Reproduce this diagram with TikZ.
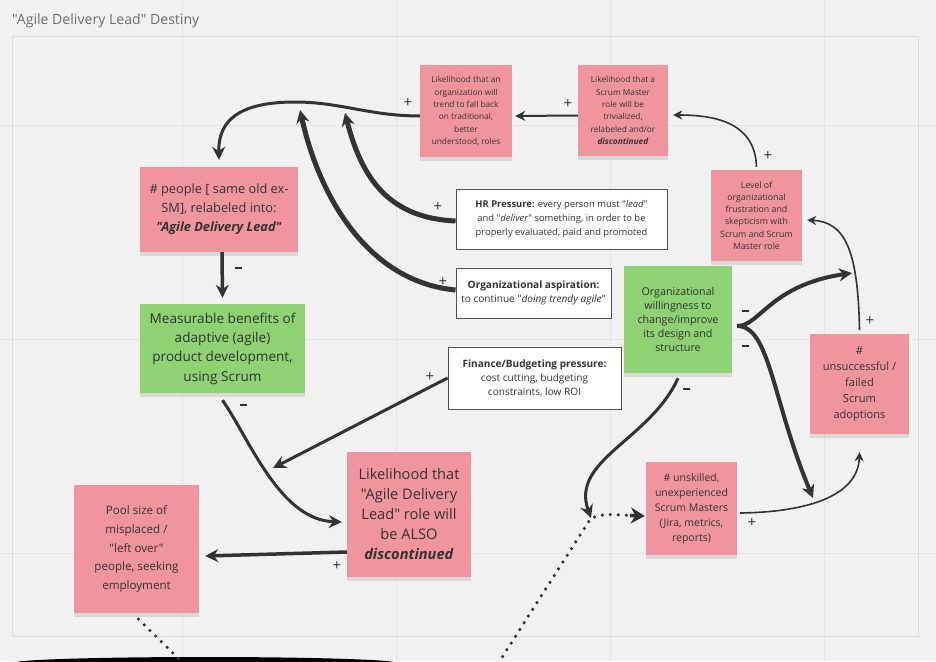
\documentclass[tikz,border=0pt]{standalone}
\usepackage{fontspec}
\setmainfont{Open Sans}[Ligatures=TeXOff]
\usetikzlibrary{arrows.meta,shadows,shapes.geometric}
\pgfdeclarelayer{bg}
\pgfsetlayers{bg,main}
\definecolor{board}{HTML}{F1F1F1}
\definecolor{frameline}{HTML}{DCDCDC}
\definecolor{gridline}{HTML}{E4E4E4}
\definecolor{notepink}{HTML}{F0959E}
\definecolor{notegreen}{HTML}{8ED273}
\definecolor{ink}{HTML}{333333}
\definecolor{titlegrey}{HTML}{6E6E6E}
\newcommand{\minussign}{\rule{7pt}{2.6pt}}
\tikzset{
    note/.style={rectangle, inner sep=0pt, align=center, text=ink,
      drop shadow={shadow xshift=0pt, shadow yshift=-4pt, opacity=.22}},
    pinknote/.style={note, fill=notepink},
    greennote/.style={note, fill=notegreen},
    infobox/.style={rectangle, inner sep=0pt, align=center, text=ink,
      draw=ink!85, fill=white, line width=.9pt},
    sign/.style={inner sep=0pt, text=ink, font=\fontsize{15}{15}\selectfont},
    link/.style={draw=ink, line width=3.5pt, -{Stealth[length=13pt,width=13pt]}},
    thinlink/.style={draw=ink, line width=1.6pt, -{Stealth[length=9pt,width=9pt]}},
    dotlink/.style={draw=ink, line width=3.5pt, line cap=round, dash pattern=on 0pt off 8pt}
}

\begin{document}
\begin{tikzpicture}[x=1pt, y=-1pt]
  \useasboundingbox (0,0) rectangle (936,661);

  \begin{pgfonlayer}{bg}
    \fill[board] (0,0) rectangle (936,661);
    \foreach \gx in {182,396,610,824} \draw[gridline, line width=.7pt] (\gx,0) -- (\gx,661);
    \foreach \gy in {125,339,553} \draw[gridline, line width=.7pt] (0,\gy) -- (936,\gy);
    \draw[frameline, line width=.8pt] (12,36) rectangle (918,636);
  \end{pgfonlayer}

  \node[anchor=west, inner sep=0pt, text=titlegrey, font=\fontsize{14.1}{14}\selectfont]
    (title) at (12,21) {"Agile Delivery Lead" Destiny};

  % sticky notes
  \node[pinknote, minimum width=92pt, minimum height=92pt, font=\fontsize{8.3}{12.3}\selectfont]
    (orgtrend) at (466,111) {Likelihood that an\\organization will\\trend to fall back\\on traditional,\\better\\understood, roles};
  \node[pinknote, minimum width=90pt, minimum height=91pt, font=\fontsize{8.3}{12.3}\selectfont]
    (smrole) at (623,110.5) {Likelihood that a\\Scrum Master\\role will be\\trivialized,\\relabeled and/or\\\textbf{\textit{discontinued}}};
  \node[pinknote, minimum width=158pt, minimum height=85pt, font=\fontsize{12.8}{19}\selectfont]
    (people) at (219,209.5) {\# people [ same old ex-\\SM], relabeled into:\\\textbf{\textit{"Agile Delivery Lead"}}};
  \node[greennote, minimum width=165pt, minimum height=89pt, font=\fontsize{13.6}{19.3}\selectfont]
    (benefits) at (222.5,348.5) {Measurable benefits of\\adaptive (agile)\\product development,\\using Scrum};
  \node[pinknote, minimum width=91pt, minimum height=91pt, font=\fontsize{8.8}{12.3}\selectfont]
    (frustr) at (756.5,215.5) {Level of\\organizational\\frustration and\\skepticism with\\Scrum and Scrum\\Master role};
  \node[greennote, minimum width=108pt, minimum height=107pt, font=\fontsize{10.7}{14.2}\selectfont]
    (willing) at (678,319.5) {Organizational\\willingness to\\change/improve\\its design and\\structure};
  \node[pinknote, minimum width=99pt, minimum height=100pt, font=\fontsize{11.1}{16}\selectfont]
    (failed) at (859.5,384) {\#\\unsuccessful /\\failed\\Scrum\\adoptions};
  \node[pinknote, minimum width=91pt, minimum height=93pt, font=\fontsize{10.5}{15}\selectfont]
    (unskilled) at (691.5,508.5) {\# unskilled,\\unexperienced\\Scrum Masters\\(Jira, metrics,\\reports)};
  \node[pinknote, minimum width=124pt, minimum height=125pt, font=\fontsize{14.6}{20}\selectfont]
    (adl) at (409,514.5) {Likelihood that\\"Agile Delivery\\Lead" role will\\be ALSO\\\textbf{\textit{discontinued}}};
  \node[pinknote, minimum width=125pt, minimum height=128pt, font=\fontsize{11.6}{18.6}\selectfont]
    (pool) at (136.5,549) {Pool size of\\misplaced /\\"left over"\\people, seeking\\employment};

  % pressure boxes
  \node[infobox, minimum width=211pt, minimum height=60pt, font=\fontsize{9.4}{14}\selectfont]
    (hr) at (561.5,219) {\textbf{HR Pressure:} every person must "\textit{lead}"\\and "\textit{deliver}" something, in order to be\\properly evaluated, paid and promoted};
  \node[infobox, minimum width=155pt, minimum height=50pt, font=\fontsize{10.1}{14}\selectfont]
    (aspir) at (533.5,293) {\textbf{Organizational aspiration:}\\to continue "\textit{doing trendy agile}"};
  \node[infobox, minimum width=173pt, minimum height=62pt, font=\fontsize{10.1}{14}\selectfont]
    (finance) at (534.5,378) {\textbf{Finance/Budgeting pressure:}\\cost cutting, budgeting\\constraints, low ROI};

  % off-board shape
  \node[ellipse, fill=black, inner sep=0pt, minimum width=384pt, minimum height=12pt]
    (blob) at (205,663) {};

  % free ends
  \coordinate (hrtip) at (345,113);
  \coordinate (asptip) at (300,110);
  \coordinate (fintip) at (273,468);
  \coordinate (uptip) at (852,273);
  \coordinate (lowtip) at (813,498);
  \coordinate (dotjoin) at (591,518);
  \coordinate (dotstart) at (494,670);
  \coordinate (dothead) at (630,515.5);
  \coordinate (poolend) at (180,660);

  % connectors
  \draw[link, line width=3pt] ([yshift=-5pt]orgtrend.west) .. controls (370,116) and (340,102) .. (295,102)
    .. controls (240,102) and (218,120) .. ([yshift=7pt]people.north);
  \draw[link, line width=2pt, -{Stealth[length=10pt,width=10pt]}] ([yshift=-5pt]smrole.west) -- ([xshift=3pt,yshift=-5pt]orgtrend.east);
  \draw[thinlink] ([yshift=3pt]frustr.north) .. controls (755,125) and (720,115) .. ([xshift=5pt,yshift=-4.5pt]smrole.east);
  \draw[link, line width=5pt] ([yshift=-2pt]hr.west) .. controls (390,218) and (362,180) .. (hrtip);
  \draw[link, line width=5pt] ([yshift=3pt]aspir.west) .. controls (370,282) and (320,200) .. (asptip);
  \draw[link] ([xshift=3pt]people.south) -- ([yshift=6pt]benefits.north);
  \draw[link, line width=3pt] ([yshift=-7pt]benefits.south) .. controls (250,440) and (280,520) .. ([xshift=-5pt,yshift=-7.5pt]adl.west);
  \draw[link, line width=3pt] (finance.west) -- (fintip);
  \draw[link] ([yshift=-37.5pt]adl.west) -- ([xshift=6pt,yshift=-7pt]pool.east);
  \draw[link, line width=4pt] ([xshift=5pt,yshift=-6.5pt]willing.east) .. controls (760,326) and (770,285) .. (uptip);
  \draw[link, line width=4pt] ([xshift=5pt,yshift=-6.5pt]willing.east) .. controls (770,326) and (772,400) .. (lowtip);
  \draw[thinlink] ([yshift=4pt]failed.north) .. controls (858,250) and (845,222) .. ([xshift=5pt,yshift=-4.5pt]frustr.east);
  \draw[thinlink] ([xshift=3pt,yshift=-4.5pt]unskilled.east) .. controls (810,512) and (858,495) .. ([yshift=-18pt]failed.south);
  \draw[link, line width=3pt] ([yshift=-5pt]willing.south) .. controls (650,440) and (570,460) .. (dotjoin);
  \draw[dotlink] (dotstart) -- (dotjoin) .. controls (605,514) .. (dothead);
  \draw[draw=ink, line width=3.5pt, -{Stealth[length=14pt,width=16pt]}] (dothead) -- ([xshift=-1pt,yshift=-7.5pt]unskilled.west);
  \draw[dotlink] ([xshift=2pt,yshift=-6pt]pool.south) -- (poolend);

  % polarity signs
  \node[sign] (s1) at (408,103) {+};
  \node[sign] (s2) at (568,104) {+};
  \node[sign] (s3) at (768,156) {+};
  \node[sign] (s4) at (438,207) {+};
  \node[sign] (s5) at (443,282) {+};
  \node[sign] (s6) at (238,268) {\minussign};
  \node[sign] (s7) at (243,405) {\minussign};
  \node[sign] (s8) at (430,377) {+};
  \node[sign] (s9) at (337,566) {+};
  \node[sign] (s10) at (745,311) {\minussign};
  \node[sign] (s11) at (745,346) {\minussign};
  \node[sign] (s12) at (870,321) {+};
  \node[sign] (s13) at (752,523) {+};
  \node[sign] (s14) at (686,389) {\minussign};
\end{tikzpicture}
\end{document}
